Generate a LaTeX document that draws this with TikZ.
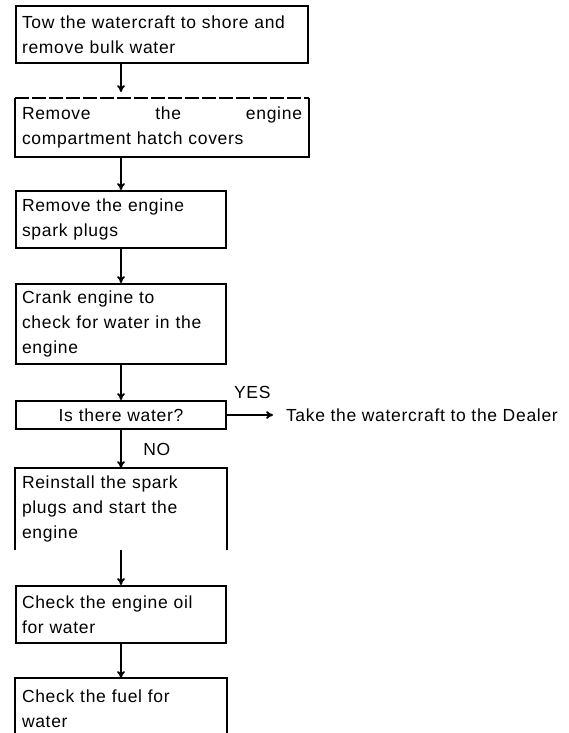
\documentclass[tikz,border=0pt]{standalone}
\usepackage{fontspec}
\setmainfont[LetterSpace=4]{Liberation Sans}
\usetikzlibrary{arrows.meta}
\begin{document}
\begin{tikzpicture}[x=1pt,y=1pt,line width=2pt,
  txt/.style={font=\fontsize{17.5}{25}\selectfont},
  stepbox/.style={txt, draw, align=left, text width=#1, inner xsep=6pt, inner ysep=0pt, minimum height=57pt, anchor=north west},
  openbox/.style={stepbox=#1, draw=none},
  flow/.style={-{To[length=7pt,width=8pt]}}]
\useasboundingbox (0,0) rectangle (568,-733);
% steps
\node[stepbox=280] (tow) at (15,-5) {Tow the watercraft to shore and\\remove bulk water};
\node[openbox=280] (cover) at (15,-98) {Remove\hfill the\hfill engine\\compartment hatch covers};
\node[stepbox=198] (plugs) at (15,-190) {Remove the engine\\spark plugs};
\node[stepbox=198, minimum height=80pt] (crank) at (15,-283) {Crank engine to\\check for water in the\\engine};
\node[stepbox=198, minimum height=28pt, align=center] (water) at (15,-400) {Is there water?};
\node[openbox=198, minimum height=80pt] (reinstall) at (15,-468) {Reinstall the spark\\plugs and start the\\engine};
\node[stepbox=198] (oil) at (15,-585) {Check the engine oil\\for water};
\node[openbox=198, minimum height=60pt] (fuel) at (15,-678) {Check the fuel for\\water};
\node[txt, anchor=west, inner sep=2pt] (dealer) at (water.east -| 283,0) {Take the watercraft to the Dealer};
% open borders
\draw[dash pattern=on 14pt off 3pt] (cover.north west) -- (cover.north east);
\draw (cover.north east) -- (cover.south east) -- (cover.south west) -- (cover.north west);
\draw (reinstall.south west) -- (reinstall.north west) -- (reinstall.north east) -- (reinstall.south east);
\draw (fuel.south west) -- (fuel.north west) -- (fuel.north east) -- (fuel.south east);
% connectors
\draw[flow, shorten >=6pt] (tow.south -| plugs.north) -- (cover.north -| plugs.north);
\draw[flow] (cover.south -| plugs.north) -- (plugs.north);
\draw[flow] (plugs.south) -- (crank.north);
\draw[flow] (crank.south) -- (water.north);
\draw[flow] (water.east) -- node[txt, pos=0.55, above=12pt] {YES} ([xshift=-10pt]dealer.west);
\draw[flow] (water.south) -- node[txt, right=18pt] {NO} (reinstall.north);
\draw[flow] (reinstall.south) -- (oil.north);
\draw[flow] (oil.south) -- (fuel.north);
\end{tikzpicture}
\end{document}
